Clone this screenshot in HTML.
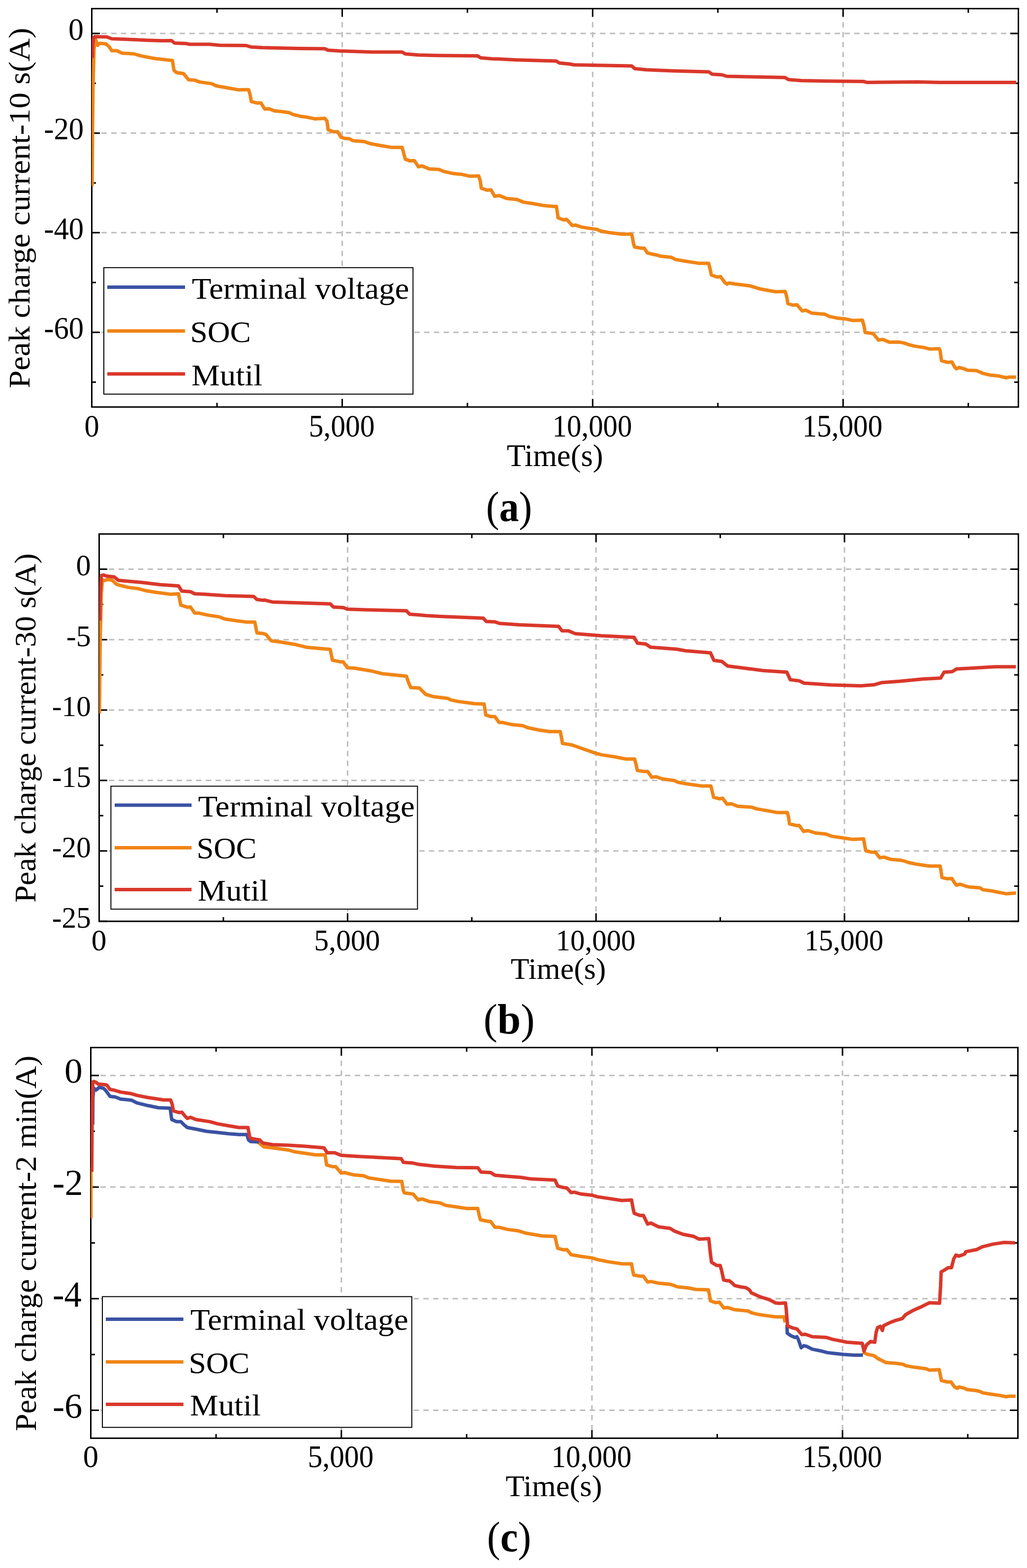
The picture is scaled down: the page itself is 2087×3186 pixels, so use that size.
<!DOCTYPE html><html><head><meta charset="utf-8"><title>Peak charge current</title><style>html,body{margin:0;padding:0;background:#fff}svg{display:block}</style></head><body>
<svg width="2087" height="3186" viewBox="0 0 2087 3186">
<rect width="2087" height="3186" fill="#fff"/>
<line x1="186.19" y1="68.09" x2="2069.50" y2="68.09" stroke="#bdbdbd" stroke-width="3" stroke-dasharray="10.9 8.969"/>
<line x1="186.19" y1="270.47" x2="2069.50" y2="270.47" stroke="#bdbdbd" stroke-width="3" stroke-dasharray="10.9 8.969"/>
<line x1="186.19" y1="472.84" x2="2069.50" y2="472.84" stroke="#bdbdbd" stroke-width="3" stroke-dasharray="10.9 8.969"/>
<line x1="186.19" y1="675.22" x2="2069.50" y2="675.22" stroke="#bdbdbd" stroke-width="3" stroke-dasharray="10.9 8.969"/>
<line x1="695.42" y1="24.60" x2="695.42" y2="827.00" stroke="#bdbdbd" stroke-width="3" stroke-dasharray="10.9 9.300"/>
<line x1="1204.34" y1="24.60" x2="1204.34" y2="827.00" stroke="#bdbdbd" stroke-width="3" stroke-dasharray="10.9 9.300"/>
<line x1="1713.26" y1="24.60" x2="1713.26" y2="827.00" stroke="#bdbdbd" stroke-width="3" stroke-dasharray="10.9 9.300"/>
<rect x="211" y="543.8" width="628.30" height="257.00" fill="#fff" stroke="#000" stroke-width="2"/>
<line x1="218" y1="583.4" x2="376" y2="583.4" stroke="#3a52a3" stroke-width="7"/>
<line x1="218" y1="672.6" x2="376" y2="672.6" stroke="#f08516" stroke-width="7"/>
<line x1="218" y1="759.8" x2="376" y2="759.8" stroke="#d9382b" stroke-width="7"/>
<text font-family="Liberation Serif, serif" font-size="62.15" font-weight="normal" transform="translate(389.70,606.60) scale(1.0473,1)" >Terminal voltage</text>
<text font-family="Liberation Serif, serif" font-size="62.15" font-weight="normal" transform="translate(386.56,694.50) scale(1.0202,1)" >SOC</text>
<text font-family="Liberation Serif, serif" font-size="62.15" font-weight="normal" transform="translate(389.05,782.60) scale(1.0439,1)" >Mutil</text>
<path d="M186.5,68.09h16.5M2069.5,68.09h-16.5M186.5,270.47h16.5M2069.5,270.47h-16.5M186.5,472.84h16.5M2069.5,472.84h-16.5M186.5,675.22h16.5M2069.5,675.22h-16.5M186.5,169.28h8.5M2069.5,169.28h-8.5M186.5,371.66h8.5M2069.5,371.66h-8.5M186.5,574.03h8.5M2069.5,574.03h-8.5M186.5,776.41h8.5M2069.5,776.41h-8.5M186.50,17.5v16.5M186.50,827v-16.5M695.42,17.5v16.5M695.42,827v-16.5M1204.34,17.5v16.5M1204.34,827v-16.5M1713.26,17.5v16.5M1713.26,827v-16.5M440.96,17.5v8.5M440.96,827v-8.5M949.88,17.5v8.5M949.88,827v-8.5M1458.80,17.5v8.5M1458.80,827v-8.5M1967.72,17.5v8.5M1967.72,827v-8.5" stroke="#000" stroke-width="3" fill="none"/>
<rect x="186.5" y="17.5" width="1883.00" height="809.50" fill="none" stroke="#000" stroke-width="3"/>
<clipPath id="clipa"><rect x="186.5" y="17.5" width="1883.00" height="809.50"/></clipPath>
<g clip-path="url(#clipa)">
<path d="M187.2,378.3 L188.0,270.0 L189.0,175.0 L191.0,100.0 L194.4,80.8 L198.5,92.1 L202.6,88.0 L214.9,89.0 L221.1,94.1 L227.2,103.0 L237.5,103.0 L247.7,107.9 L272.4,109.5 L286.7,113.6 L313.4,118.8 L344.2,122.2 L350.4,122.9 L353.4,142.4 L358.6,147.5 L372.9,149.5 L383.2,161.9 L395.5,162.9 L405.8,166.6 L430.4,170.1 L438.6,174.2 L455.0,177.3 L483.8,182.4 L500.9,182.3 L505.3,182.3 L508.5,193.6 L510.7,206.3 L522.7,209.3 L530.3,209.3 L538.0,221.5 L546.7,220.9 L557.6,225.2 L572.9,226.8 L588.1,229.0 L594.7,232.4 L610.0,236.2 L625.2,238.3 L640.5,241.6 L660.1,240.5 L664.5,246.0 L666.7,263.4 L677.6,267.8 L686.3,267.8 L692.8,278.7 L699.4,280.9 L710.3,282.0 L716.8,285.7 L740.8,287.8 L751.7,291.8 L773.5,295.7 L795.3,299.4 L817.2,299.4 L821.5,315.8 L823.7,323.4 L833.1,326.9 L841.8,326.2 L850.5,338.9 L857.1,337.1 L872.3,343.2 L892.0,344.3 L902.9,348.7 L920.3,352.4 L937.8,354.2 L955.2,358.1 L972.7,357.4 L975.9,367.2 L978.1,382.5 L990.1,386.4 L997.8,385.8 L1005.4,398.9 L1014.1,397.3 L1029.4,403.2 L1051.2,405.4 L1064.3,410.9 L1081.7,413.5 L1103.5,417.4 L1125.3,419.6 L1130.8,419.6 L1134.1,442.5 L1145.0,446.8 L1151.5,445.8 L1163.1,458.4 L1169.6,457.3 L1182.7,461.6 L1204.5,464.9 L1213.2,466.0 L1219.8,469.3 L1237.2,472.5 L1263.4,475.8 L1280.9,475.8 L1284.1,476.9 L1287.4,495.4 L1289.6,502.0 L1302.7,504.2 L1309.2,504.2 L1315.8,514.0 L1324.5,516.2 L1335.4,518.3 L1341.9,520.5 L1363.7,522.7 L1372.5,527.1 L1389.9,530.3 L1411.7,533.6 L1420.4,535.1 L1440.1,535.1 L1443.3,547.8 L1445.5,558.7 L1457.5,563.0 L1464.1,562.0 L1472.8,573.9 L1477.2,577.2 L1481.5,575.0 L1493.1,577.0 L1523.6,580.7 L1545.4,587.3 L1576.0,592.7 L1595.6,592.3 L1598.9,603.6 L1601.0,616.7 L1610.9,620.0 L1619.6,619.3 L1630.5,632.0 L1637.0,630.2 L1650.1,636.3 L1676.3,638.5 L1685.0,642.9 L1700.3,646.2 L1719.9,648.3 L1733.0,651.2 L1752.6,650.5 L1755.9,662.5 L1758.1,675.6 L1774.4,677.8 L1785.3,690.9 L1794.1,689.8 L1807.2,695.2 L1827.6,695.1 L1836.8,696.9 L1847.9,700.6 L1858.9,703.4 L1877.3,706.1 L1890.2,709.3 L1908.6,708.5 L1910.5,712.6 L1913.2,732.8 L1925.2,736.2 L1934.4,735.6 L1939.9,745.7 L1943.6,749.4 L1949.1,746.6 L1962.0,750.3 L1965.7,752.2 L1984.1,753.1 L1991.5,755.9 L1997.0,758.6 L2013.5,762.3 L2030.1,764.1 L2044.8,767.5 L2050.4,766.3 L2064.7,766.3" fill="none" stroke="#f08516" stroke-width="7" stroke-linejoin="round" stroke-linecap="butt"/>
<path d="M187.6,117.7 L188.2,91.1 L190.3,76.7 L192.3,74.6 L216.9,75.0 L227.2,78.7 L247.7,79.4 L278.5,80.8 L297.0,81.8 L327.8,82.8 L348.3,82.4 L354.5,87.4 L379.1,88.6 L385.3,90.0 L426.3,90.0 L446.8,92.1 L500.0,92.5 L510.0,95.4 L533.4,96.7 L606.7,98.4 L660.1,99.0 L666.8,102.0 L690.1,103.4 L756.8,105.7 L816.9,105.7 L823.6,109.4 L850.2,111.7 L890.3,112.7 L970.3,113.4 L977.0,117.4 L1000.3,119.4 L1010.0,119.7 L1050.0,121.7 L1130.1,124.0 L1136.8,128.0 L1156.8,130.0 L1166.8,131.7 L1216.8,132.7 L1283.5,134.0 L1290.2,139.4 L1313.5,141.7 L1366.9,144.0 L1440.3,146.0 L1447.0,150.7 L1467.0,152.0 L1477.0,155.0 L1521.1,155.9 L1595.1,157.4 L1602.5,161.8 L1628.4,163.7 L1680.2,164.8 L1754.3,165.5 L1761.7,167.4 L1865.3,166.6 L1909.7,167.4 L2002.2,167.4 L2065.1,167.4" fill="none" stroke="#d9382b" stroke-width="7" stroke-linejoin="round" stroke-linecap="butt"/>
</g>
<text font-family="Liberation Serif, serif" font-size="62.69" font-weight="normal" transform="translate(139.12,81.04) scale(0.9875,1)">0</text>
<text font-family="Liberation Serif, serif" font-size="62.69" font-weight="normal" transform="translate(89.17,283.42) scale(0.9699,1)">-20</text>
<text font-family="Liberation Serif, serif" font-size="62.69" font-weight="normal" transform="translate(89.17,485.79) scale(0.9699,1)">-40</text>
<text font-family="Liberation Serif, serif" font-size="62.69" font-weight="normal" transform="translate(89.17,688.17) scale(0.9699,1)">-60</text>
<text font-family="Liberation Serif, serif" font-size="63.38" font-weight="normal" transform="translate(171.38,887.20) scale(0.9541,1)" >0</text>
<text font-family="Liberation Serif, serif" font-size="63.38" font-weight="normal" transform="translate(627.53,887.20) scale(0.9393,1)" >5,000</text>
<text font-family="Liberation Serif, serif" font-size="63.38" font-weight="normal" transform="translate(1122.60,887.20) scale(0.9285,1)" >10,000</text>
<text font-family="Liberation Serif, serif" font-size="63.38" font-weight="normal" transform="translate(1630.47,887.20) scale(0.9340,1)" >15,000</text>
<text font-family="Liberation Serif, serif" font-size="62.77" font-weight="normal" transform="translate(1029.75,946.80) scale(0.9974,1)" >Time(s)</text>
<text font-family="Liberation Serif, serif" font-size="86.56" transform="translate(987.79,1058.50) scale(0.9269,1)">(<tspan font-weight="bold">a</tspan>)</text>
<text font-family="Liberation Serif, serif" font-size="61.54" transform="translate(60.00,788.85) rotate(-90) scale(1.0550,1)">Peak charge current-10 s(A)</text>
<line x1="201.50" y1="1156.55" x2="2069.50" y2="1156.55" stroke="#bdbdbd" stroke-width="3" stroke-dasharray="10.9 8.808"/>
<line x1="201.50" y1="1299.64" x2="2069.50" y2="1299.64" stroke="#bdbdbd" stroke-width="3" stroke-dasharray="10.9 8.808"/>
<line x1="201.50" y1="1442.73" x2="2069.50" y2="1442.73" stroke="#bdbdbd" stroke-width="3" stroke-dasharray="10.9 8.808"/>
<line x1="201.50" y1="1585.82" x2="2069.50" y2="1585.82" stroke="#bdbdbd" stroke-width="3" stroke-dasharray="10.9 8.808"/>
<line x1="201.50" y1="1728.91" x2="2069.50" y2="1728.91" stroke="#bdbdbd" stroke-width="3" stroke-dasharray="10.9 8.808"/>
<line x1="706.36" y1="1092.40" x2="706.36" y2="1872.00" stroke="#bdbdbd" stroke-width="3" stroke-dasharray="10.9 8.800"/>
<line x1="1211.23" y1="1092.40" x2="1211.23" y2="1872.00" stroke="#bdbdbd" stroke-width="3" stroke-dasharray="10.9 8.800"/>
<line x1="1716.09" y1="1092.40" x2="1716.09" y2="1872.00" stroke="#bdbdbd" stroke-width="3" stroke-dasharray="10.9 8.800"/>
<rect x="225.4" y="1597.5" width="623.00" height="249.80" fill="#fff" stroke="#000" stroke-width="2"/>
<line x1="233" y1="1635.9" x2="389.3" y2="1635.9" stroke="#3a52a3" stroke-width="7"/>
<line x1="233" y1="1722.4" x2="389.3" y2="1722.4" stroke="#f08516" stroke-width="7"/>
<line x1="233" y1="1807.4" x2="389.3" y2="1807.4" stroke="#d9382b" stroke-width="7"/>
<text font-family="Liberation Serif, serif" font-size="61.38" font-weight="normal" transform="translate(402.50,1658.90) scale(1.0571,1)" >Terminal voltage</text>
<text font-family="Liberation Serif, serif" font-size="61.38" font-weight="normal" transform="translate(399.41,1743.90) scale(1.0222,1)" >SOC</text>
<text font-family="Liberation Serif, serif" font-size="61.38" font-weight="normal" transform="translate(401.86,1829.80) scale(1.0525,1)" >Mutil</text>
<path d="M201.5,1156.55h16.5M2069.5,1156.55h-16.5M201.5,1299.64h16.5M2069.5,1299.64h-16.5M201.5,1442.73h16.5M2069.5,1442.73h-16.5M201.5,1585.82h16.5M2069.5,1585.82h-16.5M201.5,1728.91h16.5M2069.5,1728.91h-16.5M201.5,1872.00h16.5M2069.5,1872.00h-16.5M201.5,1228.09h8.5M2069.5,1228.09h-8.5M201.5,1371.18h8.5M2069.5,1371.18h-8.5M201.5,1514.27h8.5M2069.5,1514.27h-8.5M201.5,1657.36h8.5M2069.5,1657.36h-8.5M201.5,1800.45h8.5M2069.5,1800.45h-8.5M201.50,1085v16.5M201.50,1872v-16.5M706.36,1085v16.5M706.36,1872v-16.5M1211.23,1085v16.5M1211.23,1872v-16.5M1716.09,1085v16.5M1716.09,1872v-16.5M453.93,1085v8.5M453.93,1872v-8.5M958.80,1085v8.5M958.80,1872v-8.5M1463.66,1085v8.5M1463.66,1872v-8.5M1968.53,1085v8.5M1968.53,1872v-8.5" stroke="#000" stroke-width="3" fill="none"/>
<rect x="201.5" y="1085" width="1868.00" height="787.00" fill="none" stroke="#000" stroke-width="3"/>
<clipPath id="clipb"><rect x="201.5" y="1085" width="1868.00" height="787.00"/></clipPath>
<g clip-path="url(#clipb)">
<path d="M202.0,1450.0 L203.7,1292.7 L205.9,1205.4 L208.1,1178.2 L212.4,1179.3 L219.0,1177.5 L227.7,1178.8 L236.4,1186.9 L243.0,1189.1 L260.4,1193.4 L282.2,1196.3 L295.3,1200.0 L315.0,1203.2 L347.7,1207.6 L362.9,1206.5 L367.3,1229.4 L380.4,1233.8 L386.9,1233.3 L395.7,1245.8 L404.4,1245.8 L424.0,1250.1 L445.8,1253.4 L456.7,1257.8 L478.5,1261.0 L500.3,1263.9 L517.8,1263.9 L522.2,1286.1 L535.0,1287.3 L540.3,1289.1 L551.2,1302.1 L568.6,1304.3 L601.3,1309.8 L623.1,1315.2 L671.1,1319.6 L675.5,1341.4 L690.8,1344.7 L697.3,1344.7 L706.0,1356.7 L721.3,1357.8 L754.0,1363.2 L775.8,1368.7 L826.0,1374.1 L830.3,1387.2 L834.7,1397.0 L852.2,1398.1 L865.0,1410.8 L881.2,1415.6 L909.5,1418.9 L916.1,1422.1 L931.3,1425.4 L964.1,1429.8 L983.7,1430.4 L985.9,1443.9 L987.0,1452.7 L996.8,1455.9 L1005.5,1455.9 L1014.2,1467.9 L1020.8,1467.9 L1040.4,1472.3 L1062.2,1474.5 L1073.1,1478.8 L1094.9,1483.2 L1116.7,1486.5 L1138.5,1486.5 L1141.8,1502.8 L1142.9,1510.5 L1156.0,1512.6 L1162.5,1513.7 L1206.8,1529.3 L1222.1,1533.6 L1250.4,1538.0 L1272.2,1542.3 L1289.7,1542.3 L1293.0,1555.4 L1295.1,1565.2 L1307.1,1567.4 L1315.9,1567.4 L1324.6,1579.4 L1333.3,1578.3 L1346.4,1582.7 L1370.4,1586.0 L1376.9,1589.2 L1394.4,1592.5 L1424.9,1596.9 L1444.5,1596.9 L1447.8,1610.0 L1450.0,1619.8 L1462.0,1623.0 L1468.5,1622.0 L1477.3,1633.9 L1486.0,1632.9 L1499.1,1638.3 L1528.1,1640.2 L1536.8,1643.4 L1558.6,1647.1 L1580.4,1651.1 L1600.1,1651.1 L1602.2,1659.8 L1604.4,1674.0 L1617.5,1677.2 L1624.1,1677.2 L1632.8,1689.2 L1641.5,1687.7 L1656.8,1692.5 L1678.6,1694.7 L1689.5,1699.1 L1711.3,1702.3 L1733.1,1705.6 L1754.9,1704.5 L1757.1,1716.5 L1759.3,1728.5 L1772.4,1731.8 L1778.9,1731.3 L1787.6,1742.7 L1796.4,1741.6 L1809.4,1745.9 L1831.2,1748.1 L1836.8,1749.3 L1846.0,1752.5 L1860.8,1755.6 L1888.4,1759.8 L1910.5,1759.8 L1912.3,1770.0 L1914.1,1782.8 L1925.2,1785.6 L1934.4,1785.1 L1939.9,1793.9 L1943.6,1798.5 L1951.0,1796.6 L1962.0,1800.3 L1969.4,1802.2 L1991.5,1804.0 L1997.0,1807.7 L2017.2,1810.5 L2030.1,1813.2 L2044.8,1816.0 L2064.7,1814.5" fill="none" stroke="#f08516" stroke-width="7" stroke-linejoin="round" stroke-linecap="butt"/>
<path d="M202.6,1261.0 L203.7,1205.4 L205.9,1169.4 L210.3,1168.4 L216.8,1170.5 L232.1,1172.3 L240.8,1179.3 L260.4,1181.0 L288.8,1183.6 L325.9,1188.0 L362.9,1190.6 L369.5,1201.1 L386.9,1202.2 L395.7,1206.5 L413.1,1207.2 L456.7,1210.2 L515.6,1212.0 L522.2,1218.1 L535.0,1219.7 L538.1,1219.3 L553.4,1223.2 L601.3,1224.7 L671.1,1226.9 L677.7,1233.4 L697.3,1234.5 L706.0,1237.8 L743.1,1238.9 L826.0,1241.1 L832.5,1248.0 L852.2,1249.4 L865.0,1250.7 L895.0,1252.4 L981.8,1256.0 L988.4,1262.7 L1005.1,1263.4 L1015.1,1266.7 L1055.1,1269.4 L1135.2,1272.7 L1141.9,1281.7 L1155.2,1281.7 L1168.5,1287.4 L1221.9,1291.7 L1288.6,1295.1 L1295.3,1306.7 L1312.0,1308.4 L1322.0,1315.1 L1374.7,1319.0 L1392.8,1322.2 L1443.7,1326.4 L1450.7,1341.7 L1466.9,1344.0 L1478.5,1353.3 L1504.0,1356.5 L1550.3,1362.5 L1598.9,1365.8 L1605.9,1381.1 L1624.4,1383.4 L1633.6,1388.0 L1689.2,1391.7 L1749.4,1393.6 L1777.2,1391.2 L1791.1,1387.1 L1828.2,1384.3 L1874.5,1379.7 L1911.5,1377.8 L1918.5,1365.8 L1934.7,1364.8 L1944.0,1359.3 L1967.1,1357.9 L2022.7,1354.7 L2064.4,1354.7" fill="none" stroke="#d9382b" stroke-width="7" stroke-linejoin="round" stroke-linecap="butt"/>
</g>
<text font-family="Liberation Serif, serif" font-size="60.60" font-weight="normal" transform="translate(154.49,1169.13) scale(0.9941,1)">0</text>
<text font-family="Liberation Serif, serif" font-size="61.52" font-weight="normal" transform="translate(134.80,1312.82) scale(0.9754,1)">-5</text>
<text font-family="Liberation Serif, serif" font-size="59.71" font-weight="normal" transform="translate(105.83,1455.33) scale(0.9915,1)">-10</text>
<text font-family="Liberation Serif, serif" font-size="60.60" font-weight="normal" transform="translate(105.83,1599.01) scale(0.9769,1)">-15</text>
<text font-family="Liberation Serif, serif" font-size="60.60" font-weight="normal" transform="translate(105.83,1741.50) scale(0.9769,1)">-20</text>
<text font-family="Liberation Serif, serif" font-size="61.52" font-weight="normal" transform="translate(105.83,1885.18) scale(0.9624,1)">-25</text>
<text font-family="Liberation Serif, serif" font-size="61.85" font-weight="normal" transform="translate(185.74,1931.20) scale(0.9932,1)" >0</text>
<text font-family="Liberation Serif, serif" font-size="61.85" font-weight="normal" transform="translate(638.22,1931.20) scale(0.9641,1)" >5,000</text>
<text font-family="Liberation Serif, serif" font-size="61.85" font-weight="normal" transform="translate(1129.60,1931.20) scale(0.9523,1)" >10,000</text>
<text font-family="Liberation Serif, serif" font-size="61.85" font-weight="normal" transform="translate(1634.65,1931.20) scale(0.9436,1)" >15,000</text>
<text font-family="Liberation Serif, serif" font-size="61.23" font-weight="normal" transform="translate(1037.86,1989.00) scale(1.0097,1)" >Time(s)</text>
<text font-family="Liberation Serif, serif" font-size="86.67" transform="translate(982.39,2099.70) scale(0.9843,1)">(<tspan font-weight="bold">b</tspan>)</text>
<text font-family="Liberation Serif, serif" font-size="62.31" transform="translate(72.30,1833.89) rotate(-90) scale(1.0094,1)">Peak charge current-30 s(A)</text>
<line x1="184.22" y1="2185.20" x2="2068.50" y2="2185.20" stroke="#bdbdbd" stroke-width="3" stroke-dasharray="10.9 8.983"/>
<line x1="184.22" y1="2412.00" x2="2068.50" y2="2412.00" stroke="#bdbdbd" stroke-width="3" stroke-dasharray="10.9 8.983"/>
<line x1="184.22" y1="2638.80" x2="2068.50" y2="2638.80" stroke="#bdbdbd" stroke-width="3" stroke-dasharray="10.9 8.983"/>
<line x1="184.22" y1="2865.60" x2="2068.50" y2="2865.60" stroke="#bdbdbd" stroke-width="3" stroke-dasharray="10.9 8.983"/>
<line x1="693.69" y1="2135.10" x2="693.69" y2="2922.30" stroke="#bdbdbd" stroke-width="3" stroke-dasharray="10.9 9.100"/>
<line x1="1202.88" y1="2135.10" x2="1202.88" y2="2922.30" stroke="#bdbdbd" stroke-width="3" stroke-dasharray="10.9 9.100"/>
<line x1="1712.07" y1="2135.10" x2="1712.07" y2="2922.30" stroke="#bdbdbd" stroke-width="3" stroke-dasharray="10.9 9.100"/>
<rect x="208" y="2634.6" width="628.80" height="265.70" fill="#fff" stroke="#000" stroke-width="2"/>
<line x1="215" y1="2680.5" x2="372.7" y2="2680.5" stroke="#3a52a3" stroke-width="7"/>
<line x1="215" y1="2767.3" x2="372.7" y2="2767.3" stroke="#f08516" stroke-width="7"/>
<line x1="215" y1="2853.5" x2="372.7" y2="2853.5" stroke="#d9382b" stroke-width="7"/>
<text font-family="Liberation Serif, serif" font-size="62.31" font-weight="normal" transform="translate(386.69,2702.20) scale(1.0474,1)" >Terminal voltage</text>
<text font-family="Liberation Serif, serif" font-size="62.31" font-weight="normal" transform="translate(383.55,2790.10) scale(1.0194,1)" >SOC</text>
<text font-family="Liberation Serif, serif" font-size="62.31" font-weight="normal" transform="translate(386.06,2875.60) scale(1.0399,1)" >Mutil</text>
<path d="M184.5,2185.20h16.5M2068.5,2185.20h-16.5M184.5,2412.00h16.5M2068.5,2412.00h-16.5M184.5,2638.80h16.5M2068.5,2638.80h-16.5M184.5,2865.60h16.5M2068.5,2865.60h-16.5M184.5,2298.60h8.5M2068.5,2298.60h-8.5M184.5,2525.40h8.5M2068.5,2525.40h-8.5M184.5,2752.20h8.5M2068.5,2752.20h-8.5M184.50,2128.5v16.5M184.50,2922.3v-16.5M693.69,2128.5v16.5M693.69,2922.3v-16.5M1202.88,2128.5v16.5M1202.88,2922.3v-16.5M1712.07,2128.5v16.5M1712.07,2922.3v-16.5M439.09,2128.5v8.5M439.09,2922.3v-8.5M948.28,2128.5v8.5M948.28,2922.3v-8.5M1457.47,2128.5v8.5M1457.47,2922.3v-8.5M1966.66,2128.5v8.5M1966.66,2922.3v-8.5" stroke="#000" stroke-width="3" fill="none"/>
<rect x="184.5" y="2128.5" width="1884.00" height="793.80" fill="none" stroke="#000" stroke-width="3"/>
<clipPath id="clipc"><rect x="184.5" y="2128.5" width="1884.00" height="793.80"/></clipPath>
<g clip-path="url(#clipc)">
<path d="M184.8,2475.5 L184.8,2372.0" fill="none" stroke="#f08516" stroke-width="7" stroke-linejoin="round" stroke-linecap="butt"/>
<path d="M523.1,2319.7 L529.6,2324.7 L536.2,2330.2 L553.6,2332.3 L586.3,2336.7 L597.2,2340.0 L619.1,2343.2 L640.9,2346.5 L660.5,2346.5 L663.8,2367.2 L675.8,2370.5 L682.3,2370.5 L693.2,2383.6 L699.7,2382.5 L717.2,2386.9 L739.0,2389.1 L749.9,2393.4 L771.7,2396.7 L793.5,2400.0 L816.4,2400.4 L819.7,2419.6 L821.9,2423.9 L839.3,2426.1 L850.0,2438.1 L857.4,2436.0 L872.7,2441.4 L894.5,2444.3 L905.4,2449.1 L927.2,2452.3 L949.1,2455.6 L970.9,2455.6 L974.1,2470.9 L976.3,2478.5 L992.7,2481.8 L997.0,2481.8 L1005.8,2493.8 L1014.5,2493.8 L1031.9,2498.1 L1053.7,2501.0 L1069.0,2505.8 L1101.7,2511.2 L1127.9,2512.3 L1131.2,2527.6 L1133.3,2536.3 L1145.3,2539.6 L1151.9,2538.9 L1160.6,2549.4 L1180.0,2552.7 L1202.7,2555.9 L1213.6,2559.2 L1235.4,2563.6 L1263.8,2567.9 L1283.4,2567.9 L1285.6,2581.0 L1287.8,2590.8 L1300.9,2593.0 L1307.4,2593.0 L1316.1,2605.0 L1322.7,2603.9 L1337.9,2607.2 L1361.9,2609.4 L1377.2,2614.8 L1399.0,2617.0 L1414.1,2620.0 L1439.5,2620.7 L1441.6,2630.6 L1443.7,2643.3 L1453.6,2646.8 L1462.1,2646.1 L1470.6,2657.4 L1479.0,2656.7 L1491.7,2660.9 L1520.0,2663.7 L1527.0,2667.3 L1541.1,2670.8 L1555.2,2672.9 L1576.4,2675.7 L1593.3,2675.7 L1595.5,2687.0" fill="none" stroke="#f08516" stroke-width="7" stroke-linejoin="round" stroke-linecap="butt"/>
<path d="M1752.9,2747.7 L1763.5,2752.0 L1774.8,2754.1 L1780.4,2757.6 L1783.2,2760.0 L1800.0,2768.4 L1809.2,2769.3 L1822.1,2770.3 L1835.0,2772.1 L1840.5,2774.9 L1855.2,2777.6 L1882.8,2781.3 L1888.4,2784.1 L1908.6,2783.1 L1910.5,2792.3 L1913.2,2805.2 L1925.2,2808.0 L1932.5,2808.0 L1939.9,2818.1 L1945.4,2820.9 L1949.1,2818.1 L1960.2,2820.9 L1965.7,2823.6 L1984.1,2825.5 L1991.5,2827.3 L1997.0,2830.1 L2013.5,2832.8 L2030.1,2835.1 L2044.8,2838.0 L2050.4,2836.9 L2063.8,2836.9" fill="none" stroke="#f08516" stroke-width="7" stroke-linejoin="round" stroke-linecap="butt"/>
<path d="M188.4,2285.0 L188.8,2230.0 L190.9,2211.4 L195.3,2214.7 L201.8,2209.3 L210.5,2211.4 L214.9,2215.8 L223.6,2227.8 L234.5,2228.9 L245.4,2233.2 L267.2,2235.4 L278.1,2240.9 L300.0,2246.3 L321.8,2250.7 L345.8,2251.8 L349.0,2274.7 L358.8,2279.1 L367.6,2279.1 L374.1,2285.6 L380.7,2291.0 L398.1,2294.3 L419.9,2298.7 L441.7,2300.9 L463.5,2303.5 L485.3,2305.2 L501.7,2305.2 L505.0,2316.1 L509.3,2319.4 L520.0,2319.9 L526.4,2320.3" fill="none" stroke="#3a52a3" stroke-width="7" stroke-linejoin="round" stroke-linecap="butt"/>
<path d="M1599.2,2692.0 L1599.8,2708.9 L1608.2,2714.6 L1615.3,2717.4 L1619.5,2716.0 L1622.3,2721.6 L1628.0,2738.5 L1633.6,2734.3 L1639.3,2735.7 L1650.6,2741.4 L1664.7,2744.2 L1681.6,2748.4 L1692.9,2749.8 L1714.1,2752.0 L1735.2,2753.4 L1753.6,2753.4" fill="none" stroke="#3a52a3" stroke-width="7" stroke-linejoin="round" stroke-linecap="butt"/>
<path d="M186.5,2381.0 L187.3,2260.0 L188.7,2198.4 L190.9,2197.3 L195.3,2199.4 L199.6,2202.7 L212.7,2203.8 L217.1,2204.9 L223.6,2213.6 L230.2,2214.7 L245.4,2219.1 L267.2,2222.3 L278.1,2225.6 L300.0,2230.0 L321.8,2233.2 L332.7,2235.0 L346.8,2235.0 L350.1,2244.2 L352.3,2257.2 L363.2,2260.5 L369.7,2259.9 L376.3,2268.1 L380.7,2272.5 L387.2,2270.3 L398.1,2274.7 L426.5,2279.1 L441.7,2283.4 L463.5,2287.3 L485.3,2291.0 L503.9,2291.0 L507.2,2309.6 L509.3,2312.9 L520.0,2314.9 L527.4,2316.0 L534.0,2322.5 L553.6,2325.8 L586.3,2326.9 L619.1,2329.1 L658.3,2332.3 L664.9,2342.2 L680.1,2342.2 L693.2,2347.6 L728.1,2349.8 L771.7,2352.0 L815.3,2354.2 L819.7,2361.8 L837.2,2362.9 L850.0,2365.7 L883.6,2369.4 L927.2,2372.3 L970.9,2372.7 L977.4,2381.4 L997.0,2382.5 L1005.8,2388.0 L1025.4,2389.7 L1058.1,2392.3 L1079.9,2395.6 L1127.9,2397.8 L1133.3,2409.8 L1145.3,2413.1 L1151.9,2413.7 L1160.6,2423.3 L1167.2,2422.4 L1180.0,2426.0 L1202.7,2428.4 L1213.6,2431.6 L1235.4,2434.9 L1263.8,2439.3 L1283.4,2438.2 L1286.7,2456.7 L1288.9,2465.4 L1300.9,2469.8 L1307.4,2469.4 L1316.1,2487.2 L1322.7,2485.1 L1337.9,2492.7 L1361.9,2496.0 L1370.7,2501.4 L1388.1,2508.0 L1409.9,2512.3 L1420.8,2517.8 L1440.4,2516.7 L1443.7,2548.3 L1445.9,2564.7 L1449.4,2567.1 L1456.4,2571.3 L1463.5,2571.3 L1466.3,2581.2 L1470.6,2600.9 L1477.6,2602.3 L1481.9,2602.3 L1487.5,2606.6 L1493.1,2612.2 L1505.8,2615.0 L1515.7,2616.4 L1522.8,2620.7 L1527.0,2627.0 L1541.1,2633.4 L1548.2,2636.2 L1562.3,2640.4 L1576.4,2647.5 L1583.5,2648.2 L1596.2,2647.5 L1597.6,2658.8 L1600.4,2694.1 L1608.9,2697.6 L1619.5,2700.4 L1629.4,2711.7 L1636.4,2711.0 L1650.6,2716.0 L1678.8,2717.4 L1692.9,2721.6 L1707.0,2724.4 L1721.1,2727.3 L1752.2,2729.4 L1755.7,2745.6 L1760.6,2732.9 L1769.1,2725.8 L1777.6,2727.3 L1780.4,2707.5 L1783.2,2697.6 L1788.9,2694.8 L1793.1,2703.3 L1795.6,2693.7 L1806.8,2688.1 L1817.9,2683.7 L1833.5,2679.2 L1840.2,2671.4 L1855.7,2662.5 L1873.5,2654.7 L1889.1,2646.9 L1909.2,2648.0 L1911.4,2613.5 L1912.5,2584.6 L1918.1,2581.3 L1927.0,2575.7 L1933.6,2575.7 L1938.1,2557.9 L1942.5,2550.1 L1949.2,2552.3 L1960.3,2547.9 L1962.6,2543.4 L1984.8,2539.0 L1996.0,2533.4 L2018.2,2527.9 L2040.5,2524.5 L2062.7,2525.2" fill="none" stroke="#d9382b" stroke-width="7" stroke-linejoin="round" stroke-linecap="butt"/>
</g>
<text font-family="Liberation Serif, serif" font-size="72.39" font-weight="normal" transform="translate(131.07,2200.20) scale(1.0131,1)">0</text>
<text font-family="Liberation Serif, serif" font-size="74.62" font-weight="normal" transform="translate(106.83,2428.45) scale(0.9961,1)">-2</text>
<text font-family="Liberation Serif, serif" font-size="74.62" font-weight="normal" transform="translate(106.98,2655.25) scale(0.9450,1)">-4</text>
<text font-family="Liberation Serif, serif" font-size="72.39" font-weight="normal" transform="translate(106.91,2880.60) scale(0.9997,1)">-6</text>
<text font-family="Liberation Serif, serif" font-size="63.38" font-weight="normal" transform="translate(168.80,2981.20) scale(0.9879,1)" >0</text>
<text font-family="Liberation Serif, serif" font-size="63.38" font-weight="normal" transform="translate(625.43,2981.20) scale(0.9393,1)" >5,000</text>
<text font-family="Liberation Serif, serif" font-size="63.38" font-weight="normal" transform="translate(1120.47,2981.20) scale(0.9340,1)" >10,000</text>
<text font-family="Liberation Serif, serif" font-size="63.38" font-weight="normal" transform="translate(1630.50,2981.20) scale(0.9285,1)" >15,000</text>
<text font-family="Liberation Serif, serif" font-size="62.31" font-weight="normal" transform="translate(1027.45,3039.70) scale(1.0058,1)" >Time(s)</text>
<text font-family="Liberation Serif, serif" font-size="86.44" transform="translate(989.77,3151.60) scale(0.9338,1)">(<tspan font-weight="bold">c</tspan>)</text>
<text font-family="Liberation Serif, serif" font-size="62.15" transform="translate(73.10,2908.12) rotate(-90) scale(1.0281,1)">Peak charge current-2 min(A)</text>
</svg></body></html>
